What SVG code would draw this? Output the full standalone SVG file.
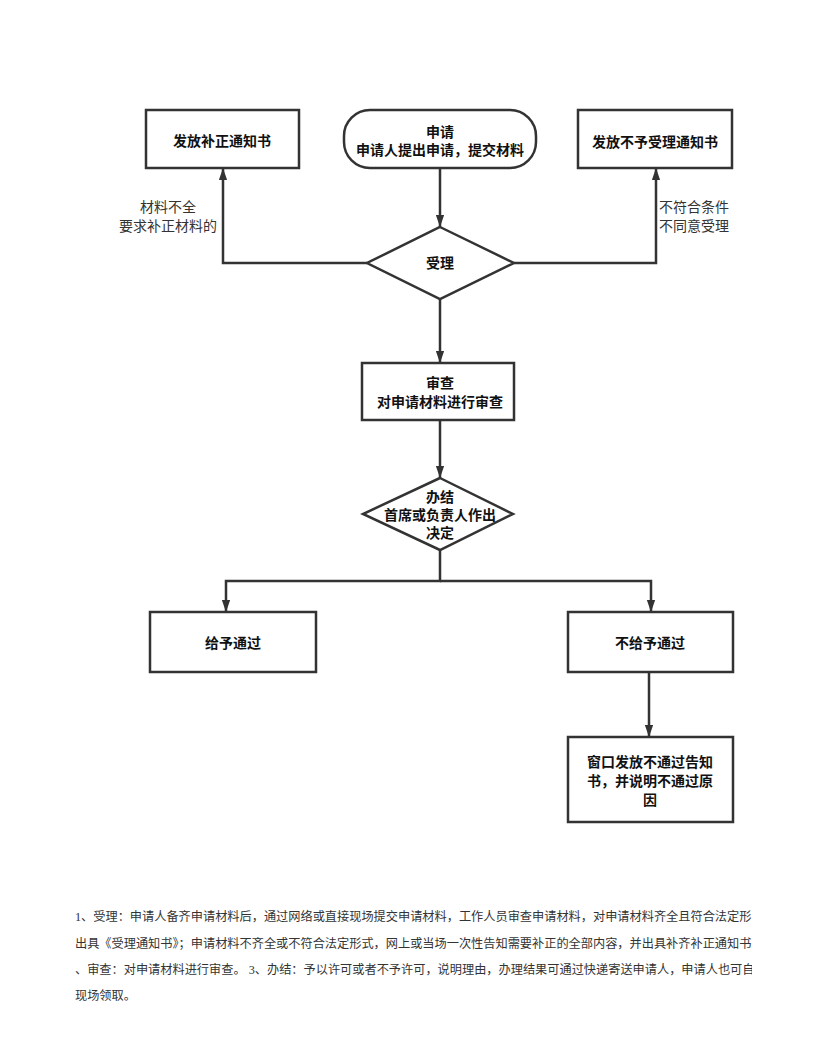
<svg xmlns="http://www.w3.org/2000/svg" width="816" height="1056" viewBox="0 0 816 1056">
<defs>
<marker id="arr" markerUnits="userSpaceOnUse" markerWidth="12" markerHeight="17" refX="16" refY="5.5" viewBox="0 0 16 11" orient="auto">
<path d="M0,0 L16,5.5 L0,11 z" fill="#333"/>
</marker>
<clipPath id="clipText"><rect x="0" y="880" width="752" height="140"/></clipPath>
<style>
.box{fill:#fff;stroke:#333;stroke-width:2.5}
.conn{fill:none;stroke:#333;stroke-width:2.5}
.nt{font-family:"Noto Sans CJK SC",sans-serif;font-size:14px;font-weight:bold;fill:#111;text-anchor:middle}
.lb{font-family:"Noto Sans CJK SC",sans-serif;font-size:14px;fill:#333}
.para{font-family:"Liberation Serif","Noto Sans CJK SC",serif;font-size:12.2px;fill:#333}
</style>
</defs>
<rect width="816" height="1056" fill="#fff"/>

<g id="connectors">
<path class="conn" d="M440,168 V227" marker-end="url(#arr)"/>
<path class="conn" d="M440,299 V363" marker-end="url(#arr)"/>
<path class="conn" d="M367,263 H223 V168" marker-end="url(#arr)"/>
<path class="conn" d="M514,263 H656 V168" marker-end="url(#arr)"/>
<path class="conn" d="M440,420 V478" marker-end="url(#arr)"/>
<path class="conn" d="M440,550 V581 H226 V612" marker-end="url(#arr)"/>
<path class="conn" d="M440,581 H651 V612" marker-end="url(#arr)"/>
<path class="conn" d="M649,672 V737" marker-end="url(#arr)"/>
<text class="lb" x="168" y="212" text-anchor="middle">材料不全</text>
<text class="lb" x="168" y="231" text-anchor="middle">要求补正材料的</text>
<text class="lb" x="659" y="212">不符合条件</text>
<text class="lb" x="659" y="231">不同意受理</text>
</g>

<g id="node-buzheng">
<rect class="box" x="146" y="110" width="153" height="58"/>
<text class="nt" x="222" y="146">发放补正通知书</text>
</g>

<g id="node-shenqing">
<rect class="box" x="344" y="110" width="192" height="58" rx="26" ry="26"/>
<text class="nt" x="440" y="137">申请</text>
<text class="nt" x="440" y="155">申请人提出申请，提交材料</text>
</g>

<g id="node-buyu">
<rect class="box" x="578" y="110" width="154" height="58"/>
<text class="nt" x="655" y="147">发放不予受理通知书</text>
</g>

<g id="node-shouli">
<polygon class="box" points="440,227 514,263 440,299 367,263"/>
<text class="nt" x="440" y="268">受理</text>
</g>

<g id="node-shencha">
<rect class="box" x="362" y="363" width="152" height="57"/>
<text class="nt" x="440" y="388">审查</text>
<text class="nt" x="440" y="407">对申请材料进行审查</text>
</g>

<g id="node-banjie">
<polygon class="box" points="440,478 513,514 440,550 363,514"/>
<text class="nt" x="440" y="502">办结</text>
<text class="nt" x="440" y="520">首席或负责人作出</text>
<text class="nt" x="440" y="538">决定</text>
</g>

<g id="node-tongguo">
<rect class="box" x="150" y="612" width="166" height="60"/>
<text class="nt" x="233" y="648">给予通过</text>
</g>

<g id="node-butongguo">
<rect class="box" x="568" y="612" width="165" height="60"/>
<text class="nt" x="650" y="648">不给予通过</text>
</g>

<g id="node-gaozhi">
<rect class="box" x="568" y="737" width="165" height="85"/>
<text class="nt" x="650" y="767">窗口发放不通过告知</text>
<text class="nt" x="650" y="786">书，并说明不通过原</text>
<text class="nt" x="650" y="805">因</text>
</g>

<g id="notes" clip-path="url(#clipText)">
<text class="para" x="75" y="921">1、受理：申请人备齐申请材料后，通过网络或直接现场提交申请材料，工作人员审查申请材料，对申请材料齐全且符合法定形</text>
<text class="para" x="75" y="948">出具《受理通知书》；申请材料不齐全或不符合法定形式，网上或当场一次性告知需要补正的全部内容，并出具补齐补正通知书</text>
<text class="para" x="75" y="974">、审查：对申请材料进行审查。 3、办结：予以许可或者不予许可，说明理由，办理结果可通过快递寄送申请人，申请人也可自</text>
<text class="para" x="75" y="1000">现场领取。</text>
</g>
</svg>
